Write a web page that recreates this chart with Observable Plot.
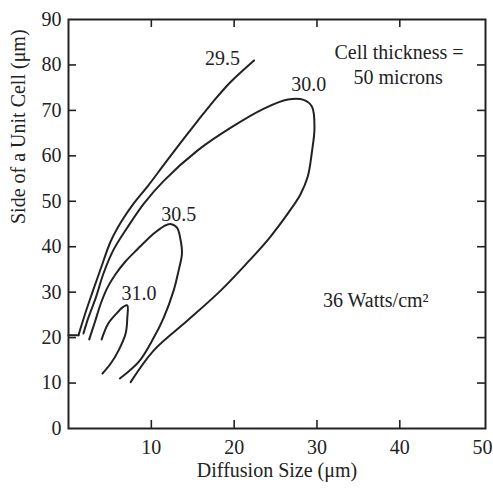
<!DOCTYPE html>
<html>
<head>
<meta charset="utf-8">
<script src="https://cdn.jsdelivr.net/npm/d3@7"></script>
<script src="https://cdn.jsdelivr.net/npm/@observablehq/plot@0.6"></script>
<style>
  body { margin: 0; background: #fff; }
  #chart svg { display: block; }
  #chart svg, #chart svg text {
    font-family: "Liberation Serif", "DejaVu Serif", serif !important;
  }
</style>
</head>
<body>
<div id="chart"></div>
<script>
// ---- Data ----
const xTickLabels = [10, 20, 30, 40, 50];
const yTickLabels = [0, 10, 20, 30, 40, 50, 60, 70, 80, 90];
const xTickMarks = [10, 20, 30, 40];
const yTickMarks = [10, 20, 30, 40, 50, 60, 70, 80];

const levels = ["29.5", "30.0", "30.5", "31.0"];

// contour 29.5 (open curve) plus its short horizontal stub at the axis
const stub295 = [[0, 20.5], [1.2, 20.5]];
const curve295 = [[1.2, 20.5], [2.0, 25.2], [2.8, 29.5], [3.9, 35.2], [5.1, 41.2], [6.4, 45.6],
  [7.9, 49.6], [9.6, 53.4], [11.5, 58.0], [13.5, 62.8], [15.6, 67.7], [17.5, 72.0],
  [19.6, 76.3], [22.4, 81.0]];
const curve300 = [[1.8, 20.9], [2.4, 24.4], [3.3, 28.8], [4.2, 34.0], [5.4, 39.2], [7.1, 44.2],
  [9.1, 49.5], [11.5, 54.5], [15.6, 61.2], [19.6, 66.2], [23.6, 70.4], [26.5, 72.4],
  [28.4, 72.3], [29.4, 70.8], [29.7, 66.2], [29.4, 61.0], [28.9, 55.5], [28.0, 51.5],
  [26.6, 47.6], [24.2, 41.8], [21.6, 36.5], [18.4, 30.4], [14.4, 23.8], [10.3, 17.2], [7.5, 10.2]];
const curve305 = [[2.5, 19.6], [3.2, 23.5], [3.9, 27.5], [4.7, 31.0], [5.7, 34.0], [6.9, 36.8],
  [8.3, 39.4], [10.3, 42.9], [11.5, 44.5], [12.3, 45.0], [13.1, 44.2], [13.5, 41.8], [13.7, 38.5],
  [13.3, 34.8], [12.7, 30.4], [11.5, 24.4], [10.3, 20.0], [8.5, 14.7], [6.2, 11.0]];
const curve310 = [[4.0, 19.6], [4.8, 23.1], [5.9, 25.5], [6.65, 26.8], [7.1, 27.1], [7.1, 24.4],
  [6.9, 20.9], [6.05, 17.2], [5.1, 14.3], [4.1, 12.1]];

const labelX = [18.6, 29.0, 13.3, 8.5];
const labelY = [81.4, 75.7, 47.1, 29.7];

const noteLines = ["Cell thickness =", "50 microns", "36 Watts/cm\u00B2"];
const noteX = [39.9, 39.8, 37.1];
const noteY = [82.7, 77.2, 28.2];

const xLabel = "Diffusion Size (\u03BCm)";
const yLabel = "Side of a Unit Cell (\u03BCm)";

// ---- Build tables ----
const toRows = (arr, z) => arr.map(([x, y]) => ({x, y, z}));
const lineRows = [
  ...toRows(curve295, "29.5"),
  ...toRows(curve300, "30.0"),
  ...toRows(curve305, "30.5"),
  ...toRows(curve310, "31.0")
];
const stubRows = toRows(stub295, "stub");
const labelRows = levels.map((t, i) => ({x: labelX[i], y: labelY[i], text: t}));
const noteRows = noteLines.map((t, i) => ({x: noteX[i], y: noteY[i], text: t}));

// ---- Layout ----
const W = 493, H = 488;
const mL = 68, mR = 8, mT = 19, mB = 60;
const innerW = W - mL - mR, innerH = H - mT - mB;
const tickLen = 8;
const ink = "#222";

const chart = Plot.plot({
  width: W,
  height: H,
  marginLeft: mL,
  marginRight: mR,
  marginTop: mT,
  marginBottom: mB,
  x: {domain: [0, 50.35]},
  y: {domain: [0, 90]},
  style: "font-family: 'Liberation Serif', serif; font-size: 20px; color: #222; background: #fff;",
  marks: [
    Plot.frame({stroke: ink, strokeWidth: 2}),
    Plot.tickX(xTickMarks, {x: d => d, insetTop: innerH - tickLen, stroke: ink, strokeWidth: 1.6}),
    Plot.tickX(xTickMarks, {x: d => d, insetBottom: innerH - tickLen, stroke: ink, strokeWidth: 1.6}),
    Plot.tickY(yTickMarks, {y: d => d, insetRight: innerW - tickLen, stroke: ink, strokeWidth: 1.6}),
    Plot.tickY(yTickMarks, {y: d => d, insetLeft: innerW - tickLen, stroke: ink, strokeWidth: 1.6}),
    Plot.axisX(xTickLabels, {tickSize: 0, tickPadding: 11, label: null, fill: ink, fontSize: 20}),
    Plot.axisY(yTickLabels, {tickSize: 0, tickPadding: 7, label: null, fill: ink, fontSize: 20}),
    Plot.line(stubRows, {x: "x", y: "y", stroke: ink, strokeWidth: 2}),
    Plot.line(lineRows, {x: "x", y: "y", z: "z", curve: "catmull-rom", stroke: ink, strokeWidth: 2}),
    Plot.text(labelRows, {x: "x", y: "y", text: "text", fill: ink, fontSize: 20}),
    Plot.text(noteRows, {x: "x", y: "y", text: "text", fill: ink, fontSize: 20}),
    Plot.text([xLabel], {frameAnchor: "bottom", dy: 48, text: d => d, fill: ink, fontSize: 20}),
    Plot.text([yLabel], {frameAnchor: "left", dx: -50, rotate: -90, text: d => d, fill: ink, fontSize: 20})
  ]
});
document.getElementById("chart").appendChild(chart);
</script>
</body>
</html>
